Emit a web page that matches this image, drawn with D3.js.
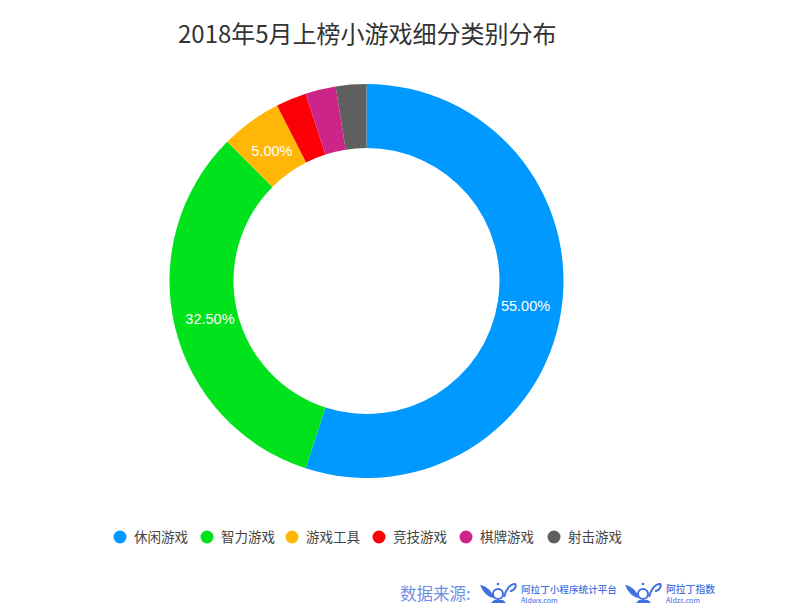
<!DOCTYPE html>
<html><head><meta charset="utf-8">
<script src="https://cdn.jsdelivr.net/npm/d3@7"></script>
<style>html,body{margin:0;padding:0;background:#fff}svg{display:block}text{font-family:"Noto Sans CJK SC","Noto Sans",sans-serif}</style>
</head><body><svg id="c" width="797" height="612"></svg>
<script>
const categories = ["休闲游戏","智力游戏","游戏工具","竞技游戏","棋牌游戏","射击游戏"];
const values = [55,32.5,5,2.5,2.5,2.5];
const labels = ["55.00%","32.50%","5.00%","","",""];
const colors = ["#0099ff","#00e31c","#ffb607","#fb0007","#cc2488","#5f5f5f"];
const legendX = [120,207,292,379,466,554];
const svg = d3.select("#c");
svg.append("text").attr("x",178).attr("y",43).attr("font-size",24).attr("fill","#333").text("2018年5月上榜小游戏细分类别分布");
const g = svg.append("g").attr("transform","translate(366.5,281)");
const pie = d3.pie().sort(null).value(d=>d)(values);
const arc = d3.arc().innerRadius(133).outerRadius(197);
const labelArc = d3.arc().innerRadius(161).outerRadius(161);
g.selectAll("path").data(pie).join("path").attr("d",arc).attr("fill",(d,i)=>colors[i]);
g.selectAll("text").data(pie).join("text").attr("transform",d=>`translate(${labelArc.centroid(d)})`)
 .attr("text-anchor","middle").attr("dy","0.36em").attr("font-size",14.5).attr("fill","#fff")
 .attr("style",'font-family:"Liberation Sans",sans-serif').text((d,i)=>labels[i]);
const lg = svg.append("g").selectAll("g").data(categories).join("g").attr("transform",(d,i)=>`translate(${legendX[i]},537)`);
lg.append("circle").attr("r",6.5).attr("fill",(d,i)=>colors[i]);
lg.append("text").attr("x",14).attr("dy","0.36em").attr("font-size",13.5).attr("fill","#444").text(d=>d);
svg.append("text").attr("x",400).attr("y",600).attr("font-size",16.5).attr("fill","#6f8fe6").text("数据来源:");
function logo(x,t,s,w){
 const l=svg.append("g").attr("transform",`translate(${x},582)`);
 l.append("path").attr("d","M1,3 C8,4 12,9 16,16 C9,16 4,10 1,3Z").attr("fill","#3f6fe0");
 l.append("circle").attr("cx",19).attr("cy",12).attr("r",5).attr("fill","none").attr("stroke","#3f6fe0").attr("stroke-width",2);
 l.append("circle").attr("cx",19).attr("cy",2).attr("r",1.3).attr("fill","#3f6fe0");
 l.append("path").attr("d","M25,15 C27,7 32,1 36,2 C38,4 35,9 31,9").attr("fill","none").attr("stroke","#3f6fe0").attr("stroke-width",2);
 l.append("path").attr("d","M15,18 H24 L27,21 H12Z").attr("fill","#3f6fe0");
 l.append("text").attr("x",42).attr("y",11).attr("font-size",w).attr("font-weight",500).attr("fill","#3f6fe0").text(t);
 l.append("text").attr("x",42).attr("y",20.5).attr("font-size",7).attr("font-weight",500).attr("fill","#5f86e6").text(s);
}
logo(479,"阿拉丁小程序统计平台","Aldwx.com",9.6);
logo(624,"阿拉丁指数","Aldzs.com",9.8);
</script></body></html>
